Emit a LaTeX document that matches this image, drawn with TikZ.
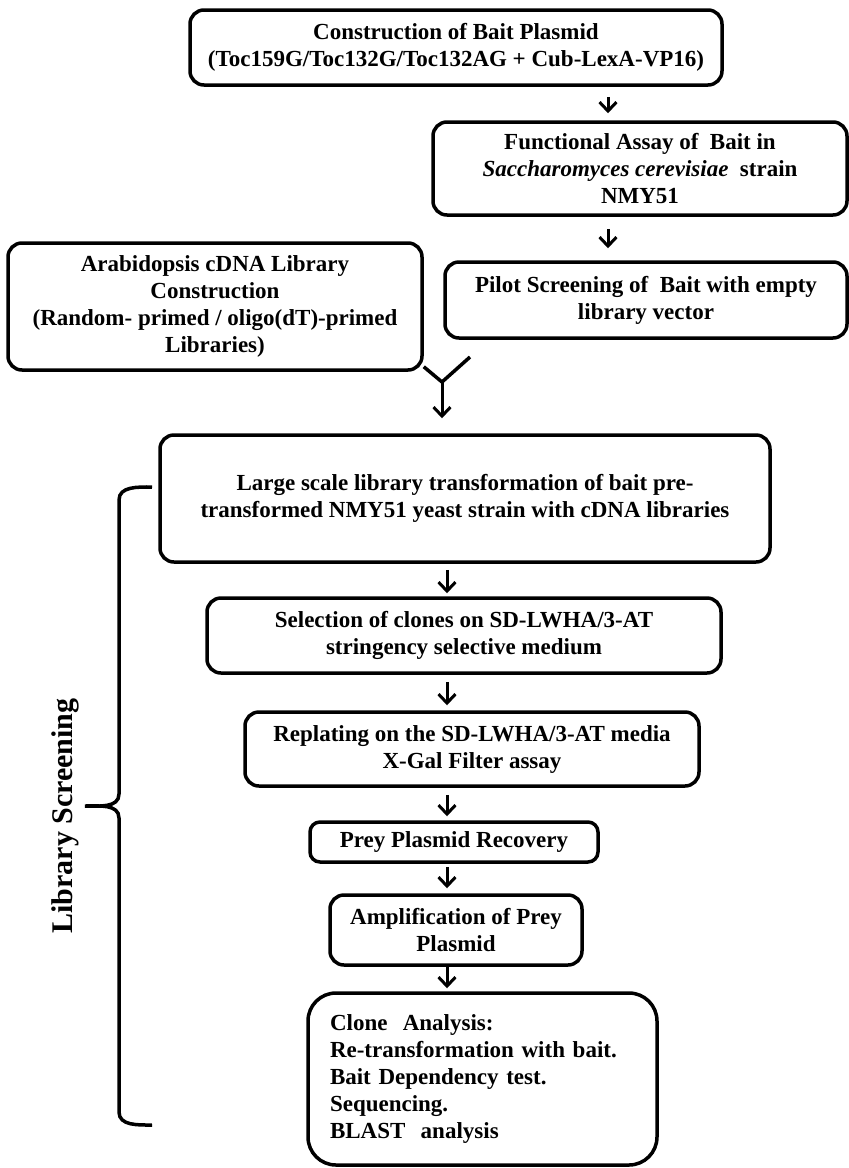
\documentclass[tikz,border=0pt]{standalone}
\usepackage{fontspec}
\setmainfont{Liberation Serif}
\usetikzlibrary{arrows.meta}

\tikzset{
    box/.style={draw, line width=3.5pt, rounded corners=14pt, align=center, inner sep=0pt,
        font=\bfseries\fontsize{23}{27}\selectfont},
    flow/.style={-{Straight Barb[length=9pt, width=17pt, line width=3pt]}, line width=3pt},
    brace/.style={line width=3.5pt}
}

\begin{document}
\begin{tikzpicture}[x=1pt, y=-1pt]
    \useasboundingbox (0,0) rectangle (849,1168);
    \node[box, minimum width=532pt, minimum height=75pt] (bait) at (456,47.5)
        {Construction of Bait Plasmid\\(Toc159G/Toc132G/Toc132AG + Cub-LexA-VP16)};
    \node[box, minimum width=414pt, minimum height=93pt] (func) at (640,168.5)
        {Functional Assay of\ \ Bait in\\\textit{Saccharomyces cerevisiae}\ \ strain\\NMY51};
    \node[box, minimum width=402pt, minimum height=76pt] (pilot) at (646,300)
        {Pilot Screening of\ \ Bait with empty\\library vector};
    \node[box, minimum width=414pt, minimum height=127pt] (lib) at (215,306.5)
        {Arabidopsis cDNA Library\\Construction\\(Random- primed / oligo(dT)-primed\\Libraries)};
    \node[box, minimum width=610pt, minimum height=127pt] (large) at (465,498.5)
        {Large scale library transformation of bait pre-\\transformed NMY51 yeast strain with cDNA libraries};
    \node[box, minimum width=514pt, minimum height=75pt] (sel) at (464,635.5)
        {Selection of clones on SD-LWHA/3-AT\\stringency selective medium};
    \node[box, minimum width=454pt, minimum height=74pt] (repl) at (472,749)
        {Replating on the SD-LWHA/3-AT media\\X-Gal Filter assay};
    \node[box, rounded corners=10pt, minimum width=288pt, minimum height=40pt] (prey) at (454,842)
        {Prey Plasmid Recovery};
    \node[box, minimum width=252pt, minimum height=70pt] (ampl) at (456,930)
        {Amplification of Prey\\Plasmid};
    \node[box, rounded corners=28pt, align=left, text width=305pt, inner xsep=22pt,
        minimum height=172pt] (clone) at (482.5,1079)
        {Clone\ \ Analysis:\\Re-transformation with bait.\\Bait Dependency test.\\Sequencing.\\BLAST\ \ analysis};

    \coordinate (xa) at (608,0);
    \coordinate (xb) at (447,0);
    \draw[flow] ([yshift=-10pt]bait.south -| xa) -- ([yshift=7pt]func.north -| xa);
    \draw[flow] ([yshift=-12pt]func.south -| xa) -- ([yshift=12pt]pilot.north -| xa);

    \coordinate (merge) at (442,382);
    \coordinate (armR) at (470,357);
    \draw[brace] ([yshift=5pt]lib.south east) -- (merge);
    \draw[brace] (armR) -- (merge);
    \draw[flow] (merge) -- ([yshift=15pt]large.north -| merge);

    \draw[flow] ([yshift=-6pt]large.south -| xb) -- ([yshift=3pt]sel.north -| xb);
    \draw[flow] ([yshift=-7pt]sel.south -| xb) -- ([yshift=5pt]repl.north -| xb);
    \draw[flow] ([yshift=-7pt]repl.south -| xb) -- ([yshift=4pt]prey.north -| xb);
    \draw[flow] ([yshift=-3pt]prey.south -| xb) -- ([yshift=5pt]ampl.north -| xb);
    \draw[flow] (ampl.south -| xb) -- ([yshift=3pt]clone.north -| xb);

    \coordinate (bt) at (152,487);
    \coordinate (bm) at (85,806);
    \coordinate (bb) at (152,1125);
    \draw[brace] (bt) to[out=180, in=90] (119,500) -- (119,794) to[out=-90, in=0] (bm)
        to[out=0, in=90] (119,818) -- (119,1112) to[out=-90, in=180] (bb);
    \node[rotate=90, font=\bfseries\fontsize{30}{34}\selectfont] (screen) at (65,816) {Library Screening};
\end{tikzpicture}
\end{document}
